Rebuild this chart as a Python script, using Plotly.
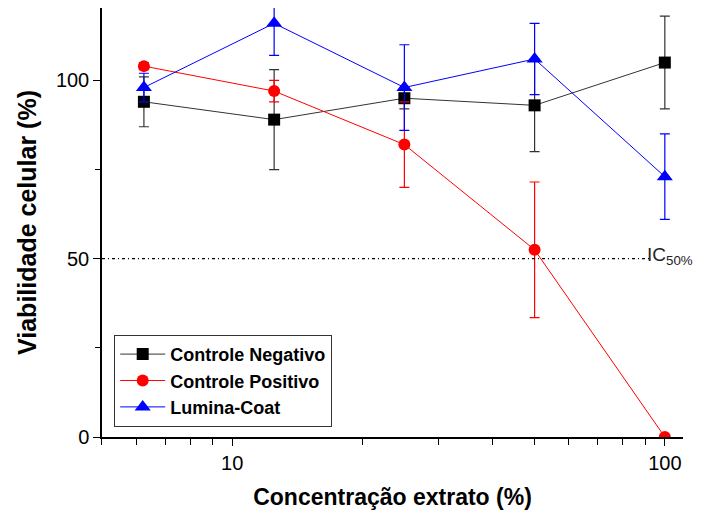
import plotly.graph_objects as go

conc = [6.25, 12.5, 25, 50, 100]

neg_vals = [94, 89, 95, 93, 105]
neg_err = [7, 14, 3, 13, 13]

pos_vals = [104, 97, 82, 52.5, 0]
pos_err = [1, 3, 12, 19, 0]

lum_vals = [98, 116, 98, 106, 73]
lum_err = [4, 9, 12, 10, 12]

ic50 = 50
x_ticks = [10, 100]
x_minor = [5, 6, 7, 8, 9, 20, 30, 40, 50, 60, 70, 80, 90]
y_ticks = [0, 50, 100]

FONT = "Liberation Sans, Arial, sans-serif"

fig = go.Figure()


def add(name, y, err, color, lcolor, symbol, size):
    fig.add_trace(go.Scatter(
        x=conc, y=y, name=name, mode="lines+markers",
        line=dict(color=lcolor, width=1),
        marker=dict(color=color, symbol=symbol, size=size, line=dict(width=0)),
        error_y=dict(type="data", array=err, visible=True, color=lcolor,
                     thickness=1.2, width=5),
        cliponaxis=True,
    ))


add("Controle Negativo", neg_vals, neg_err, "#000000", "#333333", "square", 12)
add("Controle Positivo", pos_vals, pos_err, "#ff0000", "#ff0000", "circle", 12)
add("Lumina-Coat", lum_vals, lum_err, "#0000ff", "#0000ff", "triangle-up", 14)

fig.add_shape(type="line", xref="x", yref="y", x0=5, x1=93, y0=ic50, y1=ic50,
              line=dict(color="black", width=1.3, dash="3px,3px,1px,3px"))
fig.add_annotation(x=1.955, y=ic50, xref="x", yref="y", text="IC<sub>50%</sub>",
                   showarrow=False, xanchor="left", yanchor="middle", yshift=3,
                   font=dict(family=FONT, size=19, color="#222222"))

fig.update_layout(
    width=701, height=520,
    margin=dict(l=102, r=18, t=8, b=83),
    plot_bgcolor="white", paper_bgcolor="white",
    font=dict(family=FONT, color="black"),
    showlegend=True,
    legend=dict(x=0.021, y=0.238, xanchor="left", yanchor="top",
                bordercolor="#333333", borderwidth=1, bgcolor="white",
                font=dict(family=FONT, size=18, color="black", weight="bold"),
                tracegroupgap=0, itemwidth=45),
)

fig.update_xaxes(
    type="log", range=[0.699, 2.042],
    tickmode="array", tickvals=x_ticks, ticktext=[str(v) for v in x_ticks],
    ticks="outside", ticklen=7, tickwidth=1.3, tickcolor="black",
    showline=True, linecolor="black", linewidth=1.5,
    showgrid=False, zeroline=False,
    tickfont=dict(family=FONT, size=20, color="black"),
    minor=dict(tickmode="array", tickvals=x_minor, ticks="outside", ticklen=6,
               tickwidth=1.3, tickcolor="black", showgrid=False),
    title=dict(text="Concentração extrato (%)", standoff=16,
               font=dict(family=FONT, size=23, color="black", weight="bold")),
)

fig.update_yaxes(
    range=[0, 120.3],
    tickmode="array", tickvals=y_ticks,
    ticks="outside", ticklen=7, tickwidth=1.3, tickcolor="black",
    showline=True, linecolor="black", linewidth=1.5,
    showgrid=False, zeroline=False,
    tickfont=dict(family=FONT, size=20, color="black"),
    minor=dict(tickmode="array", tickvals=[25, 75], ticks="outside", ticklen=5,
               tickwidth=1.3, tickcolor="black", showgrid=False),
    title=dict(text="Viabilidade celular (%)", standoff=12,
               font=dict(family=FONT, size=25, color="black", weight="bold")),
)

fig.write_html("out.html")
